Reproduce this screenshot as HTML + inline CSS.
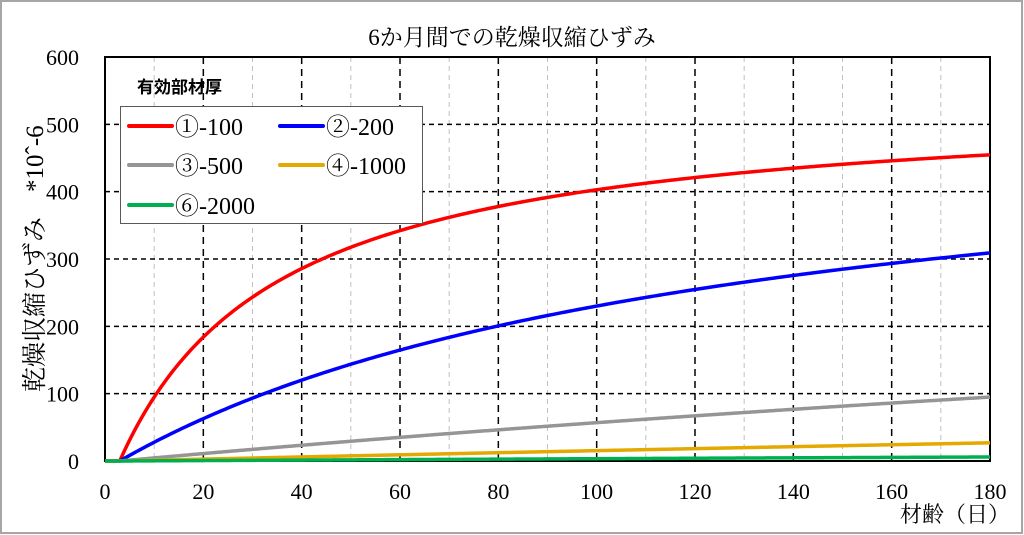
<!DOCTYPE html>
<html><head><meta charset="utf-8">
<style>
html,body{margin:0;padding:0;background:#fff;}
svg{display:block;}
.t{font-family:"Liberation Serif","Noto Serif CJK SC","Noto Sans CJK JP",serif;}
</style></head>
<body>
<svg id="s" width="1024" height="535" viewBox="0 0 1024 535" xmlns="http://www.w3.org/2000/svg">
<rect x="1" y="1" width="1021" height="532" fill="#fff" stroke="#a6a6a6" stroke-width="2"/>
<text class="t" x="512" y="45" font-size="23" text-anchor="middle">6か月間での乾燥収縮ひずみ</text>
<g id="grid"></g>
<rect x="105" y="57" width="885" height="404" fill="none" stroke="#000" stroke-width="2"/>
<g id="curves"></g>
<text x="137" y="93" font-size="17" font-weight="bold" font-family="'Noto Sans CJK JP',sans-serif">有効部材厚</text>
<rect x="120.5" y="106.5" width="302" height="117" fill="#fff" stroke="#595959" stroke-width="1"/>
<g stroke-width="4" stroke-linecap="round">
<line x1="129" y1="126" x2="172" y2="126" stroke="#ff0000"/>
<line x1="280" y1="126" x2="323" y2="126" stroke="#0000ff"/>
<line x1="129" y1="165" x2="172" y2="165" stroke="#959595"/>
<line x1="280" y1="165" x2="323" y2="165" stroke="#e4a800"/>
<line x1="129" y1="205" x2="172" y2="205" stroke="#00b050"/>
</g>
<g class="t" font-size="24">
<text x="175" y="135">①-100</text>
<text x="326" y="135">②-200</text>
<text x="175" y="174">③-500</text>
<text x="326" y="174">④-1000</text>
<text x="175" y="214">⑥-2000</text>
</g>
<g class="t" font-size="22" text-anchor="end" id="yl"></g>
<g class="t" font-size="22" text-anchor="middle" id="xl"></g>
<text class="t" font-size="25" transform="translate(43,392) rotate(-90)">乾燥収縮ひずみ　*10ˆ-6</text>
<text class="t" font-size="22" x="1010" y="522" text-anchor="end">材齢（日）</text>
</svg>
<script>
var NS="http://www.w3.org/2000/svg";
function X(t){return 105+t*885/180;}
function Y(v){return 461-v*404/600;}
function el(n,a,p){var e=document.createElementNS(NS,n);for(var k in a)e.setAttribute(k,a[k]);p.appendChild(e);return e;}
var g=document.getElementById('grid');
for(var t=10;t<180;t+=10){var maj=t%20==0;
el('line',{x1:X(t),x2:X(t),y1:57,y2:461,stroke:maj?'#000':'#bfbfbf','stroke-width':maj?1.5:1,'stroke-dasharray':maj?'7,5':'5,4'},g);}
for(var v=100;v<600;v+=100){el('line',{x1:105,x2:990,y1:Y(v),y2:Y(v),stroke:'#000','stroke-width':1.5,'stroke-dasharray':'5,4'},g);}
var yl=document.getElementById('yl');
for(var v=0;v<=600;v+=100){var e=el('text',{x:79,y:Y(v)+8},yl);e.textContent=v;}
var xl=document.getElementById('xl');
for(var t=0;t<=180;t+=20){var e=el('text',{x:X(t),y:499},xl);e.textContent=t;}
var c=document.getElementById('curves');
var S=[[539,32.8,'#ff0000'],[529,126,'#0000ff'],[496,748,'#959595'],[332,2000,'#e4a800'],[60,1600,'#00b050']];
S.forEach(function(s){var p=[];p.push(X(0)+','+Y(0));
for(var t=3;t<=180;t+=0.5){var tp=t-3;var v=s[0]*tp/(s[1]+tp);p.push(X(t).toFixed(2)+','+Y(v).toFixed(2));}
el('polyline',{points:p.join(' '),fill:'none',stroke:s[2],'stroke-width':3.5},c);});
</script>
</body></html>
